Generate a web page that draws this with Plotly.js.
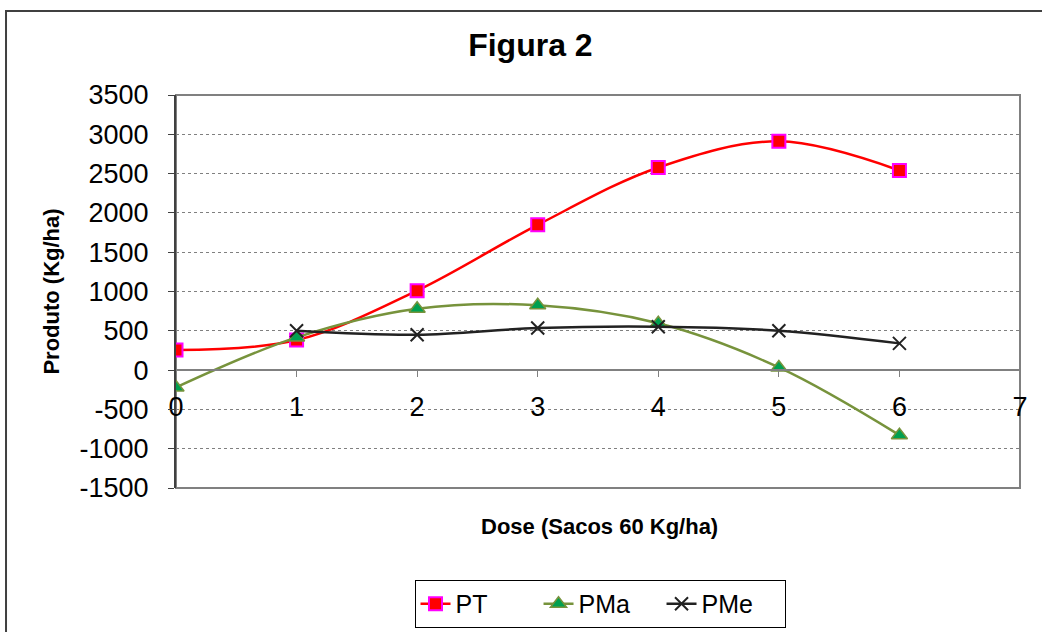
<!DOCTYPE html>
<html>
<head>
<meta charset="utf-8">
<script src="https://cdn.plot.ly/plotly-3.0.1.min.js"></script>
<style>html,body{margin:0;padding:0;background:#fff;}#chart{width:1042px;height:632px;}</style>
</head>
<body>
<div id="chart"></div>
<script>
const dose = [0, 1, 2, 3, 4, 5, 6];
const doseMe = [1, 2, 3, 4, 5, 6];
const PT = [255, 382, 1011, 1848, 2578, 2910, 2540];
const PMa = [-221, 416, 781, 824, 595, 34, -828];
const PMe = [501, 450, 535, 552, 501, 340];
const yTicks = [-1500, -1000, -500, 0, 500, 1000, 1500, 2000, 2500, 3000, 3500];
const xTicks = [0, 1, 2, 3, 4, 5, 6, 7];

const FONT = "Liberation Sans, Arial, sans-serif";

const traces = [
  {x: dose, y: PT, name: 'PT', type: 'scatter', mode: 'lines+markers',
   line: {color: '#FF0000', width: 2.5, shape: 'spline', smoothing: 1},
   marker: {symbol: 'square', size: 13, color: '#FF0000', line: {color: '#FF00FF', width: 2}}},
  {x: dose, y: PMa, name: 'PMa', type: 'scatter', mode: 'lines+markers',
   line: {color: '#77933C', width: 2.5, shape: 'spline', smoothing: 1},
   marker: {symbol: 'triangle-up', size: 14, color: '#00A050', line: {color: '#77933C', width: 1.5}}},
  {x: doseMe, y: PMe, name: 'PMe', type: 'scatter', mode: 'lines+markers',
   line: {color: '#222222', width: 2.5, shape: 'spline', smoothing: 1},
   marker: {symbol: 'x-thin', size: 13, color: '#222222', line: {color: '#222222', width: 2}}}
];

const layout = {
  width: 1042, height: 632,
  margin: {l: 176, r: 22, t: 95, b: 144, autoexpand: false},
  paper_bgcolor: '#ffffff', plot_bgcolor: '#ffffff',
  font: {family: FONT, color: '#000'},
  showlegend: true,
  title: {text: '<b>Figura 2</b>', font: {family: FONT, size: 32, color: '#000'},
          x: 0.509, xref: 'container', xanchor: 'center', y: 0.929, yref: 'container', yanchor: 'middle'},
  xaxis: {range: [0, 7], tickvals: xTicks, ticktext: xTicks.map(String),
          anchor: 'free', position: 0.3, showgrid: false, zeroline: false,
          showline: true, linecolor: '#808080', linewidth: 2,
          ticks: 'outside', ticklen: 6, tickcolor: '#808080', tickwidth: 1,
          ticklabelstandoff: 6,
          tickfont: {family: FONT, size: 27, color: '#000'}},
  yaxis: {range: [-1500, 3500], tickvals: yTicks, ticktext: yTicks.map(String),
          showgrid: true, gridcolor: '#808080', griddash: 'dot', gridwidth: 1,
          zeroline: false, showline: true, linecolor: '#404040', linewidth: 2,
          ticks: 'outside', ticklen: 6, tickcolor: '#404040', tickwidth: 1,
          ticklabelstandoff: 14,
          tickfont: {family: FONT, size: 27, color: '#000'},
          title: {text: '<b>Produto (Kg/ha)</b>', font: {family: FONT, size: 22, color: '#000'}, standoff: 14}},
  legend: {orientation: 'h', x: 0.5024, xanchor: 'center', y: -0.234, yanchor: 'top',
           bordercolor: '#000', borderwidth: 1, bgcolor: '#fff',
           entrywidth: 78, entrywidthmode: 'pixels',
           font: {family: FONT, size: 25, color: '#000'}},
  annotations: [
    {text: '<b>Dose (Sacos 60 Kg/ha)</b>', xref: 'paper', yref: 'paper', x: 0.502, y: -0.0992,
     xanchor: 'center', yanchor: 'middle', showarrow: false, font: {family: FONT, size: 22, color: '#000'}}
  ],
  shapes: [
    {type: 'rect', xref: 'paper', yref: 'paper', x0: 0, x1: 1, y0: 0, y1: 1,
     line: {color: '#808080', width: 2}, layer: 'below'},
    {type: 'rect', xref: 'paper', yref: 'paper', x0: -0.2014, x1: 1.05, y0: 1.2137, y1: -0.4,
     line: {color: '#404040', width: 2}, layer: 'below'}
  ]
};

Plotly.newPlot('chart', traces, layout, {displayModeBar: false, staticPlot: true});
</script>
</body>
</html>
